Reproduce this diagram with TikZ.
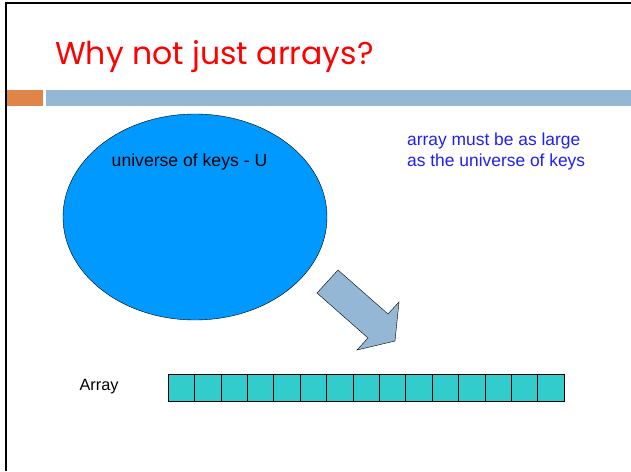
\documentclass[tikz,border=0pt]{standalone}
\usepackage{fontspec}
\setmainfont{Liberation Sans}
\newfontfamily\titlefont{Poppins}
\usetikzlibrary{shapes.geometric,positioning}
\definecolor{titlered}{RGB}{255,0,0}
\definecolor{barorange}{RGB}{224,132,74}
\definecolor{barblue}{RGB}{149,183,214}
\definecolor{keyblue}{RGB}{0,153,255}
\definecolor{noteblue}{RGB}{30,30,255}
\definecolor{cellteal}{RGB}{51,204,204}
\tikzset{cellbox/.style={draw, fill=cellteal, minimum width=26.4pt, minimum height=27pt, inner sep=0pt, outer sep=0pt}}

\begin{document}
\begin{tikzpicture}[x=1pt,y=-1pt]
\useasboundingbox (0,0) rectangle (631,471);
% slide frame and header bars
\draw[line width=2.5pt] (6,471) -- (6,3) -- (631,3);
\fill[barorange] (7,90) rectangle (43,106);
\fill[barblue] (46,90) rectangle (631,106);
\node[anchor=base west, text=titlered, inner sep=0pt] (title) at (55,64) {\titlefont\fontsize{31.5}{33}\selectfont Why not just arrays?};

% universe of keys
\node[ellipse, draw, fill=keyblue, minimum width=264pt, minimum height=206pt] (U) at (195,217) {};
\node[font=\fontsize{17.6}{20}\selectfont] (ulabel) at (189.5,162) {universe of keys - U};
\node[anchor=west, inner sep=0pt, align=left, text=noteblue, font=\fontsize{17.4}{21}\selectfont] (note) at (407,151) {array must be as large\\as the universe of keys};

% big arrow
\draw[fill=barblue] (317,293) -- (338,270) -- (388,314) -- (399,302) -- (395,341) -- (357,350) -- (368,338) -- cycle;

% the array
\foreach \i in {0,...,14}
  \node[cellbox] (c\i) at ({181.2+26.4*\i},387.5) {};
\node[font=\fontsize{16.3}{18}\selectfont] (alabel) at (99,387) {Array};
\end{tikzpicture}
\end{document}
